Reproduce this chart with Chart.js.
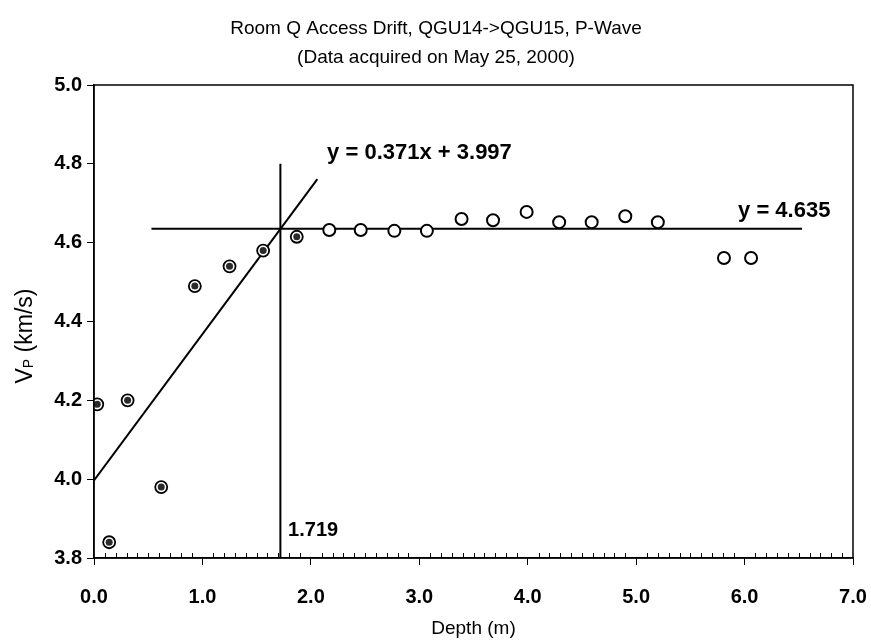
<!DOCTYPE html>
<html>
<head>
<meta charset="utf-8">
<script src="https://cdn.jsdelivr.net/npm/chart.js@4/dist/chart.umd.min.js"></script>
<style>
  html, body { margin: 0; padding: 0; background: #fff; }
  #wrap { width: 871px; height: 644px; }
</style>
</head>
<body>
<div id="wrap"><canvas id="c" width="871" height="644"></canvas></div>
<script>
// Near-surface readings (shaded markers), depth in m and Vp in km/s
const depthNear = [0.03, 0.14, 0.31, 0.62, 0.93, 1.25, 1.56, 1.87];
const vpNear    = [4.19, 3.84, 4.20, 3.98, 4.49, 4.54, 4.58, 4.615];

// Deeper readings (open markers)
const depthDeep = [2.17, 2.46, 2.77, 3.07, 3.39, 3.68, 3.99, 4.29, 4.59, 4.90, 5.20, 5.81, 6.06];
const vpDeep    = [4.632, 4.632, 4.630, 4.630, 4.660, 4.657, 4.678, 4.652, 4.652, 4.667, 4.652, 4.561, 4.561];

// Fitted trends
const slopeFit = 0.371, interceptFit = 3.997;
const slopeRange = [0, 2.06];
const plateauVp = 4.635;
const plateauRange = [0.53, 6.53];
const breakDepth = 1.719;
const breakRange = [3.8, 4.8];

// Axis ticks
const xTicks = [0, 1, 2, 3, 4, 5, 6, 7];
const yTicks = [3.8, 4.0, 4.2, 4.4, 4.6, 4.8, 5.0];

const titleLines = ['Room Q Access Drift, QGU14->QGU15, P-Wave', '(Data acquired on May 25, 2000)'];

const FONT = '"Liberation Sans", Arial, sans-serif';

const near = depthNear.map((d, i) => ({ x: d, y: vpNear[i] }));
const deep = depthDeep.map((d, i) => ({ x: d, y: vpDeep[i] }));
const slopeLine = slopeRange.map(x => ({ x, y: slopeFit * x + interceptFit }));
const plateauLine = plateauRange.map(x => ({ x, y: plateauVp }));
const breakLine = breakRange.map(y => ({ x: breakDepth, y }));

const lineDs = (data) => ({
  type: 'line', data, borderColor: '#000', borderWidth: 2,
  pointRadius: 0, fill: false, tension: 0, order: 10
});

// Frame, inner minor ticks, titles and equation labels
const decor = {
  id: 'decor',
  afterDraw(chart) {
    const { ctx, chartArea: a, scales: { x, y } } = chart;
    ctx.save();
    ctx.strokeStyle = '#000';
    ctx.lineWidth = 1.5;
    ctx.strokeRect(a.left, a.top, a.right - a.left, a.bottom - a.top);

    // minor ticks every 0.1 m pointing into the plot
    ctx.lineWidth = 1;
    ctx.beginPath();
    for (let k = 1; k < 70; k++) {
      if (k % 10 === 0) continue;
      const px = Math.round(x.getPixelForValue(k / 10)) + 0.5;
      ctx.moveTo(px, a.bottom);
      ctx.lineTo(px, a.bottom - 5);
    }
    ctx.stroke();

    ctx.fillStyle = '#000';
    ctx.textAlign = 'center';
    ctx.textBaseline = 'middle';
    ctx.font = '19px ' + FONT;
    ctx.fillText(titleLines[0], 436, 29);
    ctx.fillText(titleLines[1], 436, 58);

    // y-axis title with subscript
    ctx.save();
    ctx.translate(24, 336);
    ctx.rotate(-Math.PI / 2);
    ctx.textAlign = 'left';
    ctx.textBaseline = 'alphabetic';
    const big = '23px ' + FONT, small = '14px ' + FONT;
    ctx.font = big; const wV = ctx.measureText('V').width;
    ctx.font = small; const wP = ctx.measureText('P').width;
    ctx.font = big; const wR = ctx.measureText(' (km/s)').width;
    let sx = -(wV + wP + wR) / 2;
    const base = 8;
    ctx.font = big; ctx.fillText('V', sx, base); sx += wV;
    ctx.font = small; ctx.fillText('P', sx, base + 1); sx += wP;
    ctx.font = big; ctx.fillText(' (km/s)', sx, base);
    ctx.restore();

    // equation labels
    ctx.textAlign = 'left';
    ctx.font = 'bold 22px ' + FONT;
    ctx.fillText('y = ' + slopeFit.toFixed(3) + 'x + ' + interceptFit.toFixed(3),
      x.getPixelForValue(2.15), y.getPixelForValue(4.8275));
    ctx.fillText('y = ' + plateauVp.toFixed(3),
      x.getPixelForValue(5.94), y.getPixelForValue(4.68));
    ctx.font = 'bold 20px ' + FONT;
    ctx.fillText(breakDepth.toFixed(3),
      x.getPixelForValue(1.79), y.getPixelForValue(3.871));
    ctx.restore();
  }
};

new Chart(document.getElementById('c'), {
  type: 'scatter',
  data: {
    datasets: [
      lineDs(slopeLine),
      lineDs(plateauLine),
      lineDs(breakLine),
      {
        data: near, pointRadius: 6, pointBackgroundColor: '#fff',
        pointBorderColor: '#000', pointBorderWidth: 1.8, order: 5
      },
      {
        data: near, pointRadius: 3.5, pointBackgroundColor: '#2a2a2a',
        pointBorderColor: '#2a2a2a', pointBorderWidth: 0, order: 1
      },
      {
        data: deep, pointRadius: 6, pointBackgroundColor: '#fff',
        pointBorderColor: '#000', pointBorderWidth: 2, order: 5
      }
    ]
  },
  options: {
    responsive: false,
    animation: false,
    events: [],
    layout: { padding: { left: 0, right: 18, top: 85, bottom: 0 } },
    plugins: { legend: { display: false }, tooltip: { enabled: false }, title: { display: false } },
    scales: {
      x: {
        type: 'linear', min: 0, max: 7,
        afterFit(s) { s.height = 86; s.paddingLeft = 0; s.paddingRight = 0; },
        afterBuildTicks(s) { s.ticks = xTicks.map(v => ({ value: v })); },
        ticks: {
          color: '#000', font: { family: FONT, size: 20, weight: 'bold' }, padding: 20,
          maxRotation: 0, callback: v => Number(v).toFixed(1)
        },
        grid: { drawOnChartArea: false, drawTicks: true, tickLength: 7, color: '#000', lineWidth: 1 },
        border: { display: true, color: '#000', width: 1.5 },
        title: { display: true, text: 'Depth (m)', color: '#000', font: { family: FONT, size: 19 }, padding: { top: 0, bottom: 4 } }
      },
      y: {
        type: 'linear', min: 3.8, max: 5.0,
        afterFit(s) { s.width = 94; s.paddingTop = 0; s.paddingBottom = 0; },
        afterBuildTicks(s) { s.ticks = yTicks.map(v => ({ value: v })); },
        ticks: {
          color: '#000', font: { family: FONT, size: 20, weight: 'bold' }, padding: 5,
          callback: v => Number(v).toFixed(1)
        },
        grid: { drawOnChartArea: false, drawTicks: true, tickLength: 7, color: '#000', lineWidth: 1 },
        border: { display: true, color: '#000', width: 1.5 }
      }
    }
  },
  plugins: [decor]
});
</script>
</body>
</html>
